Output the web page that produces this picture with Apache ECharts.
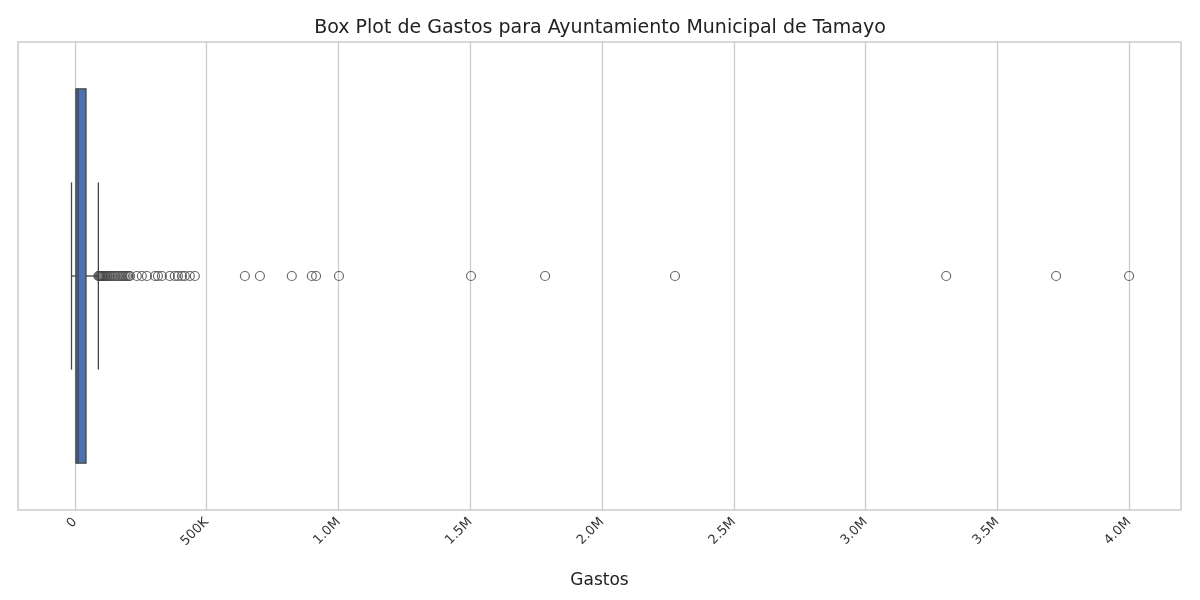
<!DOCTYPE html>
<html><head>
<meta charset="UTF-8">
<title>Box Plot de Gastos</title>
<script src="https://cdn.jsdelivr.net/npm/echarts@6/dist/echarts.min.js"></script>
</head>
<body style="margin:0;background:#fff;">
<div id="main" style="width:1200px;height:600px;"></div>
<script>
// box summary: low whisker, q1, median, q3, high whisker
var boxStats = [-13000, 3800, 12000, 42000, 89000];
var outliers = [
  89000, 92000, 95000, 98000, 101000, 104000, 108000, 112000, 116000, 120000,
  125000, 130000, 136000, 142000, 148000, 155000, 162000, 168000, 175000, 180000,
  186000, 192000, 198000, 204000, 209000,
  235000, 254000, 273000, 304000, 315000, 330000, 360000, 379000, 391000, 406000,
  417000, 436000, 455000,
  645000, 702000, 823000, 899000, 915000, 1002000,
  1503000, 1784000, 2277000, 3306000, 3723000, 4000000
];
var tickValues = [0, 500000, 1000000, 1500000, 2000000, 2500000, 3000000, 3500000, 4000000];

function fmt(v) {
  if (v === 0) return '0';
  if (v < 1000000) return (v / 1000) + 'K';
  return (v / 1000000).toFixed(1) + 'M';
}

var chart = echarts.init(document.getElementById('main'));
chart.setOption({
  animation: false,
  title: {text: 'Box Plot de Gastos para Ayuntamiento Municipal de Tamayo', left: 'center', top: 14,
    textStyle: {fontFamily: 'DejaVu Sans', fontSize: 19, fontWeight: 'normal', color: '#222'}},
  grid: {left: 18, right: 19, top: 42, bottom: 90, show: true, borderColor: '#ccc', borderWidth: 1.5},
  xAxis: {
    type: 'value', min: -216000, max: 4197000,
    name: 'Gastos', nameLocation: 'middle', nameGap: 62,
    nameTextStyle: {fontFamily: 'DejaVu Sans', fontSize: 17, color: '#222'},
    axisLine: {show: false}, axisTick: {show: false, customValues: tickValues},
    axisLabel: {customValues: tickValues, rotate: 45, formatter: fmt, color: '#333', fontSize: 13, fontFamily: 'DejaVu Sans', margin: 10},
    splitLine: {show: true, lineStyle: {color: '#ccc', width: 1.3}}
  },
  yAxis: {type: 'category', data: ['Gastos'], show: false},
  series: [{
    type: 'custom',
    data: [boxStats],
    renderItem: function (params, api) {
      var y = api.coord([0, 0])[1];
      var band = api.size([0, 1])[1];
      var bh = band * 0.8, ch = band * 0.4;
      var p = [0, 1, 2, 3, 4].map(function (i) { return api.coord([api.value(i), 0])[0]; });
      var ls = {stroke: '#444', lineWidth: 1.3};
      return {type: 'group', children: [
        {type: 'line', shape: {x1: p[0], y1: y, x2: p[1], y2: y}, style: ls},
        {type: 'line', shape: {x1: p[3], y1: y, x2: p[4], y2: y}, style: ls},
        {type: 'line', shape: {x1: p[0], y1: y - ch / 2, x2: p[0], y2: y + ch / 2}, style: ls},
        {type: 'line', shape: {x1: p[4], y1: y - ch / 2, x2: p[4], y2: y + ch / 2}, style: ls},
        {type: 'rect', shape: {x: p[1], y: y - bh / 2, width: p[3] - p[1], height: bh},
          style: {fill: '#4c72b0', stroke: '#444', lineWidth: 1.3}},
        {type: 'line', shape: {x1: p[2], y1: y - bh / 2, x2: p[2], y2: y + bh / 2}, style: ls}
      ]};
    }
  }, {
    type: 'scatter',
    data: outliers.map(function (v) { return [v, 0]; }),
    symbol: 'circle', symbolSize: 9,
    itemStyle: {color: 'rgba(0,0,0,0)', borderColor: '#444', borderWidth: 1.2}
  }]
});
</script>
</body>
</html>
